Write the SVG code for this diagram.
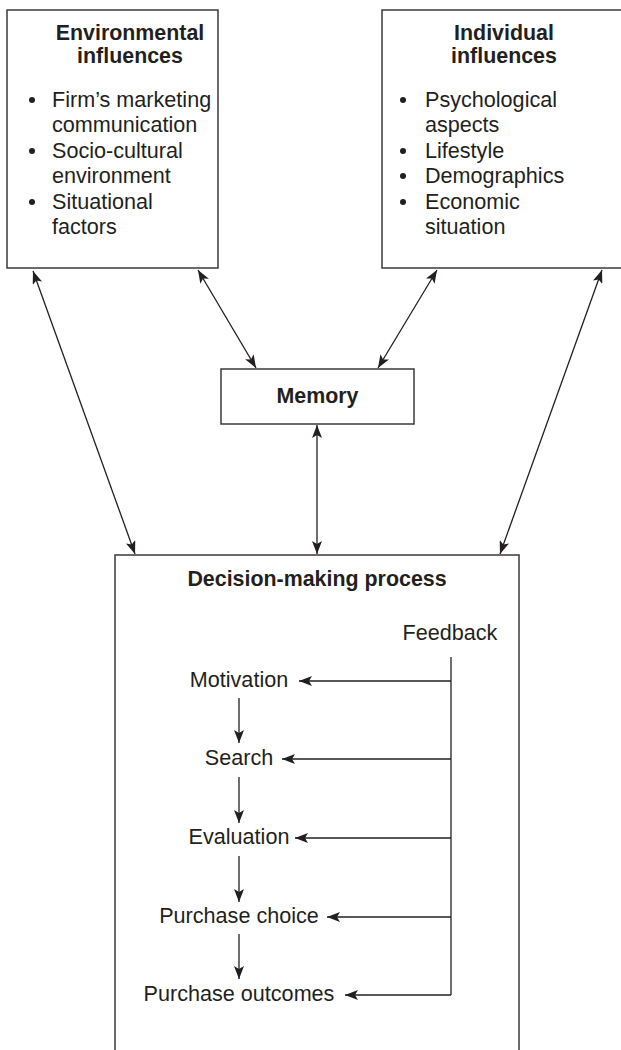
<svg xmlns="http://www.w3.org/2000/svg" width="621" height="1050" viewBox="0 0 621 1050">
<style>
  .box { fill: #ffffff; stroke: #3a3a3a; stroke-width: 1.5; }
  .t { font-family: "Liberation Sans", Arial, Helvetica, sans-serif; font-size: 21.6px; fill: #231f20; }
  .b { font-weight: bold; font-size: 21.4px; }
  .c { text-anchor: middle; }
  .ln { stroke: #231f20; stroke-width: 1.3; fill: none; }
  .dbl { marker-start: url(#ah); marker-end: url(#ah); }
  .one { marker-end: url(#ah); }
  .dot { fill: #231f20; }
</style>
<defs>
  <marker id="ah" viewBox="0 0 13 10" refX="13" refY="5" markerWidth="13" markerHeight="10" markerUnits="userSpaceOnUse" orient="auto-start-reverse">
    <path d="M0,0 L13,5 L0,10 L3,5 Z" fill="#231f20"/>
  </marker>
</defs>
<rect width="621" height="1050" fill="#ffffff"/>

<g id="environmental">
  <rect class="box" x="7" y="10" width="211" height="258"/>
  <text class="t b c" x="130" y="40">Environmental</text>
  <text class="t b c" x="130" y="63">influences</text>
  <circle class="dot" cx="32" cy="100" r="3"/>
  <text class="t" x="52" y="107">Firm’s marketing</text>
  <text class="t" x="52" y="132">communication</text>
  <circle class="dot" cx="32" cy="151" r="3"/>
  <text class="t" x="52" y="158">Socio-cultural</text>
  <text class="t" x="52" y="183">environment</text>
  <circle class="dot" cx="32" cy="202" r="3"/>
  <text class="t" x="52" y="209">Situational</text>
  <text class="t" x="52" y="234">factors</text>
</g>

<g id="individual">
  <rect class="box" x="382" y="10" width="250" height="258"/>
  <text class="t b c" x="504" y="40">Individual</text>
  <text class="t b c" x="504" y="63">influences</text>
  <circle class="dot" cx="403" cy="100" r="3"/>
  <text class="t" x="425" y="107">Psychological</text>
  <text class="t" x="425" y="132">aspects</text>
  <circle class="dot" cx="403" cy="151" r="3"/>
  <text class="t" x="425" y="158">Lifestyle</text>
  <circle class="dot" cx="403" cy="176" r="3"/>
  <text class="t" x="425" y="183">Demographics</text>
  <circle class="dot" cx="403" cy="202" r="3"/>
  <text class="t" x="425" y="209">Economic</text>
  <text class="t" x="425" y="234">situation</text>
</g>

<g id="memory">
  <rect class="box" x="221" y="369" width="193" height="55"/>
  <text class="t b c" x="317.5" y="403">Memory</text>
</g>

<g id="decision">
  <rect class="box" x="115" y="555" width="404" height="510"/>
  <text class="t b c" x="317" y="586">Decision-making process</text>
  <text class="t c" x="450" y="640">Feedback</text>
  <text class="t c" x="239" y="687">Motivation</text>
  <text class="t c" x="239" y="765">Search</text>
  <text class="t c" x="239" y="844">Evaluation</text>
  <text class="t c" x="239" y="923">Purchase choice</text>
  <text class="t c" x="239" y="1001">Purchase outcomes</text>
</g>

<g id="connectors">
  <line class="ln dbl" x1="33" y1="271" x2="135" y2="554"/>
  <line class="ln dbl" x1="602" y1="270" x2="500" y2="554"/>
  <line class="ln dbl" x1="198" y1="270" x2="256" y2="368"/>
  <line class="ln dbl" x1="437" y1="270" x2="378" y2="368"/>
  <line class="ln dbl" x1="317" y1="425" x2="317" y2="554"/>
  <line class="ln" x1="451" y1="657" x2="451" y2="995"/>
  <line class="ln one" x1="451" y1="681" x2="299" y2="681"/>
  <line class="ln one" x1="451" y1="759" x2="282" y2="759"/>
  <line class="ln one" x1="451" y1="838" x2="295" y2="838"/>
  <line class="ln one" x1="451" y1="917" x2="327" y2="917"/>
  <line class="ln one" x1="451" y1="995" x2="345" y2="995"/>
  <line class="ln one" x1="239" y1="698" x2="239" y2="743"/>
  <line class="ln one" x1="239" y1="777" x2="239" y2="823"/>
  <line class="ln one" x1="239" y1="856" x2="239" y2="902"/>
  <line class="ln one" x1="239" y1="934" x2="239" y2="979"/>
</g>
</svg>
